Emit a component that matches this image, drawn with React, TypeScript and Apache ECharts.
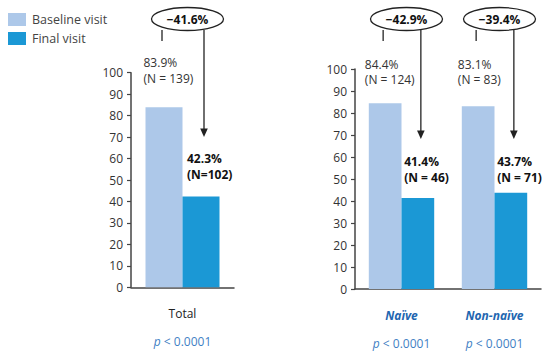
import React, { useEffect, useRef } from 'react';
import * as echarts from 'echarts';

const categoriesTotal = ['Total'];
const categoriesSub = ['Naïve', 'Non-naïve'];
const seriesNames = ['Baseline visit', 'Final visit'];
const baselineTotal = [83.9];
const finalTotal = [42.3];
const baselineSub = [84.4, 83.1];
const finalSub = [41.4, 43.7];
const baselineNTotal = ['(N = 139)'];
const finalNTotal = ['(N=102)'];
const baselineNSub = ['(N = 124)', '(N = 83)'];
const finalNSub = ['(N = 46)', '(N = 71)'];
const changeTotal = ['−41.6%'];
const changeSub = ['−42.9%', '−39.4%'];
const pTotal = ['< 0.0001'];
const pSub = ['< 0.0001', '< 0.0001'];
const yMin = 0;
const yMax = 100;
const yInterval = 10;

const FONT = '"Open Sans", Lato, sans-serif';
const C_BASE = '#adc8e9';
const C_FINAL = '#1b98d5';
const AXIS = '#444';

function yAxisCfg(gridIndex: number) {
  return {
    gridIndex,
    type: 'value',
    min: yMin,
    max: yMax,
    interval: yInterval,
    axisLine: { show: true, lineStyle: { color: AXIS, width: 1.5 } },
    axisTick: { show: true, length: 4, lineStyle: { color: AXIS, width: 1.2 } },
    splitLine: { show: false },
    axisLabel: { margin: 8, fontSize: 12, color: '#333', fontFamily: FONT },
  };
}

function xAxisCfg(gridIndex: number, data: string[], pvals: string[], highlighted: boolean) {
  return {
    gridIndex,
    type: 'category',
    data,
    axisLine: { show: true, lineStyle: { color: AXIS, width: 1.5 } },
    axisTick: { show: false },
    axisLabel: {
      interval: 0,
      margin: 12,
      fontFamily: FONT,
      formatter: (v: string, i: number) => `{c|${v}}\n{pi|p}{pv| ${pvals[i]}}`,
      rich: {
        c: highlighted
          ? { fontSize: 12, color: '#2266b0', fontWeight: 'bold', fontStyle: 'italic', lineHeight: 28, fontFamily: FONT }
          : { fontSize: 12, color: '#222', lineHeight: 28, fontFamily: FONT },
        pi: { fontSize: 12, color: '#3f7fc4', fontStyle: 'italic', lineHeight: 28, fontFamily: FONT },
        pv: { fontSize: 12, color: '#3f7fc4', lineHeight: 28, fontFamily: FONT },
      },
    },
  };
}

function barSeries(name: string, gi: number, data: number[], nLabels: string[], color: string, bw: number, bold: boolean, offX: number) {
  return {
    name,
    type: 'bar',
    xAxisIndex: gi,
    yAxisIndex: gi,
    data: data.map((v) => ({ value: v })),
    barWidth: bw,
    barGap: '0%',
    itemStyle: { color },
    label: {
      show: true,
      position: 'top',
      align: 'left',
      distance: 10,
      offset: [offX, 0],
      fontFamily: FONT,
      fontSize: 12,
      lineHeight: 15.5,
      fontWeight: bold ? 'bold' : 'normal',
      color: bold ? '#111' : '#333',
      formatter: (p: any) => `${Number(p.value).toFixed(1)}%\n${nLabels[p.dataIndex]}`,
    },
  };
}

export default function App() {
  const ref = useRef<HTMLDivElement>(null);
  useEffect(() => {
    if (!ref.current) return;
    const chart = echarts.init(ref.current, null, { renderer: 'svg' });
    const BW0 = 37;
    const BW1 = 32.7;
    const option: any = {
      animation: false,
      backgroundColor: '#fff',
      legend: {
        data: seriesNames,
        orient: 'vertical',
        left: 3,
        top: 8,
        itemWidth: 18,
        itemHeight: 13,
        itemGap: 6,
        icon: 'rect',
        textStyle: { fontSize: 12.5, color: '#444', fontFamily: FONT, lineHeight: 13, padding: [0, 0, 0, 1] },
      },
      grid: [
        { left: 131, top: 72.7, width: 103, height: 214.6 },
        { left: 355, top: 69, width: 186, height: 220 },
      ],
      xAxis: [xAxisCfg(0, categoriesTotal, pTotal, false), xAxisCfg(1, categoriesSub, pSub, true)],
      yAxis: [yAxisCfg(0), yAxisCfg(1)],
      series: [
        barSeries(seriesNames[0], 0, baselineTotal, baselineNTotal, C_BASE, BW0, false, -20.5),
        barSeries(seriesNames[1], 0, finalTotal, finalNTotal, C_FINAL, BW0, true, -14),
        barSeries(seriesNames[0], 1, baselineSub, baselineNSub, C_BASE, BW1, false, -20.3),
        barSeries(seriesNames[1], 1, finalSub, finalNSub, C_FINAL, BW1, true, -13.7),
      ],
    };
    chart.setOption(option);

    const px = (si: number, idx: number, v: number) => chart.convertToPixel({ seriesIndex: si } as any, [idx, v]) as number[];
    const targets = [86, 181.8, 87.5, 185.2];
    const datasets = [baselineTotal, finalTotal, baselineSub, finalSub];
    const seriesUpd = datasets.map((arr, si) => ({
      data: arr.map((v, i) => ({ value: v, label: { distance: px(si, i, v)[1] - targets[si] } })),
    }));

    const graphics: any[] = [];
    const panels = [
      { si: 0, bw: BW0, changes: changeTotal, tipY: 137 },
      { si: 2, bw: BW1, changes: changeSub, tipY: 139 },
    ];
    const lineStyle = { stroke: '#333', lineWidth: 1.4 };
    panels.forEach((p) => {
      p.changes.forEach((ch, i) => {
        const cx = px(p.si, i, 0)[0];
        const xl = cx - p.bw / 2 - 2;
        const xr = cx + p.bw / 2 + 3;
        const ex = (xl + xr) / 2 + 4.5;
        const ey = 19;
        graphics.push({ type: 'line', shape: { x1: xl, y1: ey + 11, x2: xl, y2: 41 }, style: lineStyle });
        graphics.push({ type: 'line', shape: { x1: xr, y1: ey + 11, x2: xr, y2: p.tipY - 7 }, style: lineStyle });
        graphics.push({
          type: 'polygon',
          shape: { points: [[xr - 3.8, p.tipY - 8.5], [xr + 3.8, p.tipY - 8.5], [xr, p.tipY]] },
          style: { fill: '#222' },
        });
        graphics.push({
          type: 'ellipse',
          shape: { cx: ex, cy: ey, rx: 36, ry: 11.5 },
          style: { fill: '#fff', stroke: '#222', lineWidth: 1.3 },
        });
        graphics.push({
          type: 'text',
          x: ex,
          y: ey,
          style: { text: ch, fontFamily: FONT, fontSize: 12, fontWeight: 'bold', fill: '#111', align: 'center', verticalAlign: 'middle' },
        });
      });
    });
    chart.setOption({ series: seriesUpd, graphic: graphics });
    return () => chart.dispose();
  }, []);
  return <div ref={ref} style={{ width: 550, height: 353, position: 'absolute', left: 0, top: 0 }} />;
}
